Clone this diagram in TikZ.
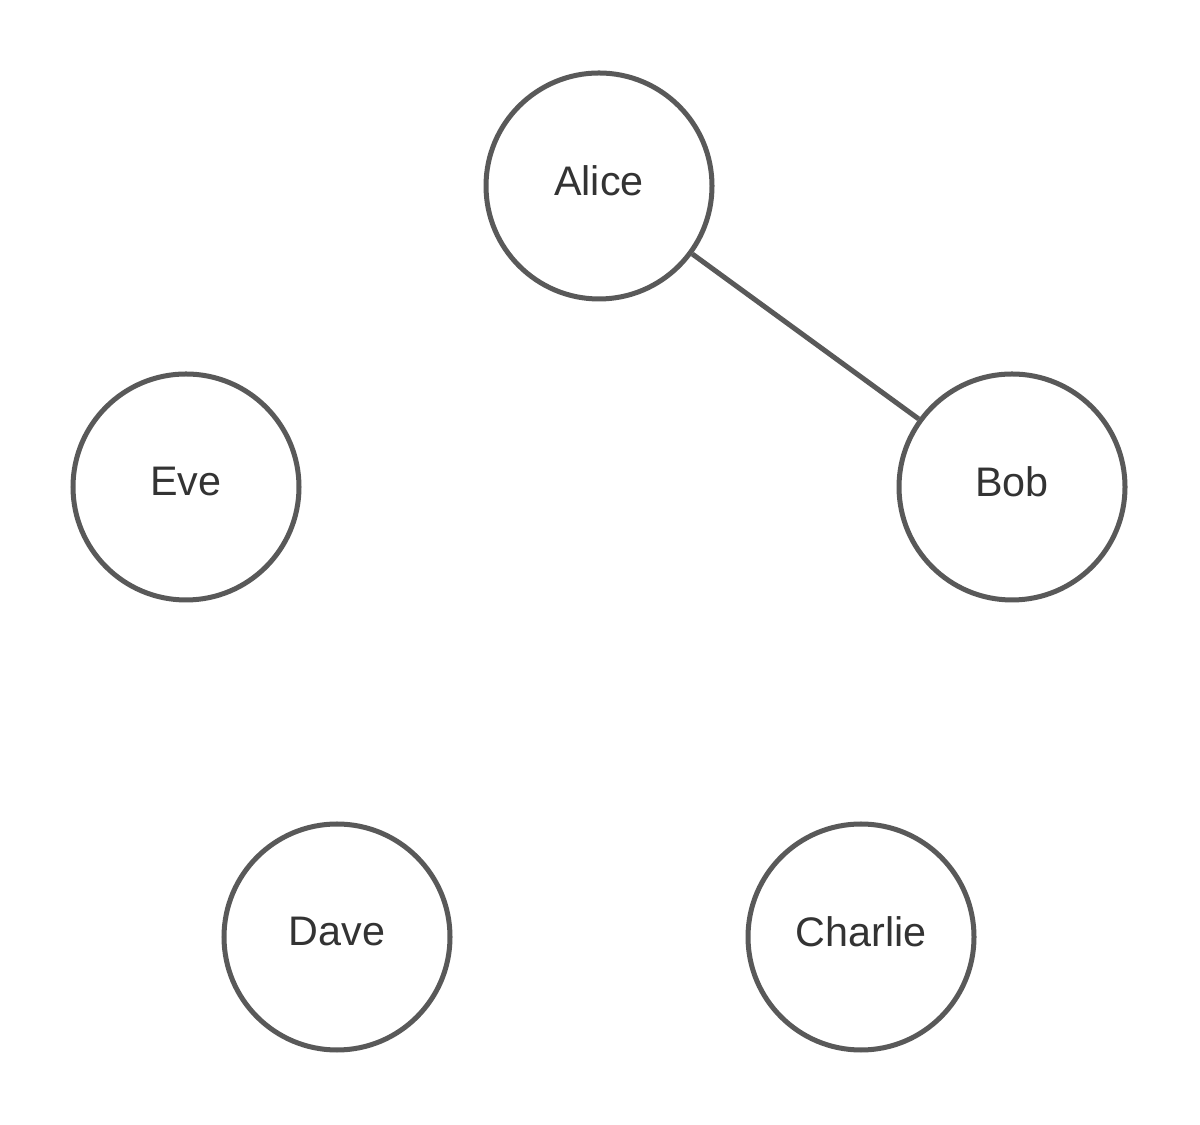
\documentclass[tikz,border=0pt]{standalone}
\usepackage{fontspec}
\setmainfont{Liberation Sans}
\definecolor{ringgray}{HTML}{595959}
\definecolor{textgray}{HTML}{333333}
\begin{document}
\begin{tikzpicture}[
    every node/.style={circle, draw=ringgray, line width=2.85pt, fill=white,
      minimum size=4.52cm, inner sep=0pt, text=textgray,
      font=\fontsize{23.5}{27}\selectfont, text depth=0.22cm},
    link/.style={draw=ringgray, line width=2.85pt}]
      \useasboundingbox (0,0) rectangle (24,22.5);
      \draw
        (11.98,18.78) node (alice){Alice}
        (20.24,12.76) node (bob){Bob}
        (17.22,3.76) node (charlie){Charlie}
        (6.74,3.76) node (dave){Dave}
        (3.72,12.76) node (eve){Eve};
      \begin{scope}[-]
        \draw[link] (alice) to (bob);
      \end{scope}
    \end{tikzpicture}
\end{document}
